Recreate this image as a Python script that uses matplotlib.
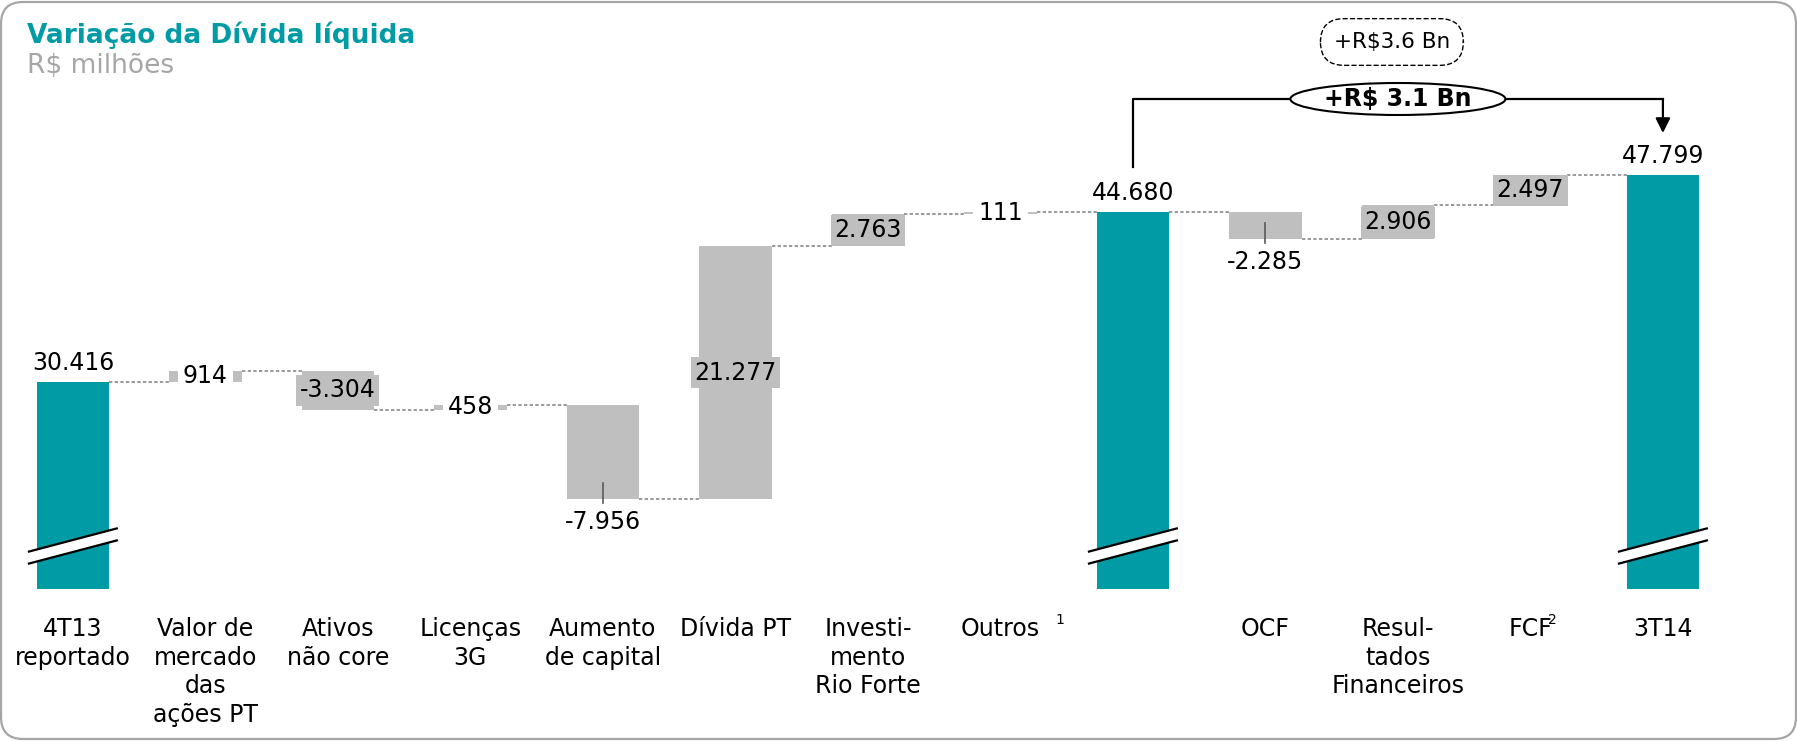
import numpy as np
import matplotlib.pyplot as plt
from matplotlib.patches import Ellipse, FancyBboxPatch, Polygon

# data (R$ milhões)
categories = ['4T13\nreportado', 'Valor de\nmercado\ndas\nações PT', 'Ativos\nnão core',
              'Licenças\n3G', 'Aumento\nde capital', 'Dívida PT',
              'Investi-\nmento\nRio Forte', 'Outros', '', 'OCF',
              'Resul-\ntados\nFinanceiros', 'FCF', '3T14']
values = [30416, 914, -3304, 458, -7956, 21277, 2763, 111, 44680, -2285, 2906, 2497, 47799]
is_total = [True, False, False, False, False, False, False, False, True,
            False, False, False, True]
value_labels = ['30.416', '914', '-3.304', '458', '-7.956', '21.277', '2.763', '111',
                '44.680', '-2.285', '2.906', '2.497', '47.799']
label_style = ['above', 'white', 'inside', 'white', 'below', 'inside', 'inside', 'white',
               'above', 'below', 'inside', 'inside', 'above']
footnotes = {7: ('1', 0.45), 11: ('2', 0.165)}
axis_start = 13000
change_main = '+R$ 3.1 Bn'
change_alt = '+R$3.6 Bn'

TEAL = '#009BA4'
GRAY = '#BFBFBF'
W, H = 1797, 741

fig = plt.figure(figsize=(W / 100, H / 100), dpi=100)
ax = fig.add_axes([0, 0, 1, 1])
y_lo, y_hi = 162, 62557
ax.set_xlim(-0.550, 13.012)
ax.set_ylim(y_lo, y_hi)
ax.axis('off')

upx = (y_hi - y_lo) / H      # data units per pixel (vertical)
xpx = 1 / 132.5              # data units per pixel (horizontal)


def py(p):
    # pixel row (from top) -> data y
    return y_hi - p * upx


# waterfall geometry
bottoms, tops, ends = [], [], []
level = 0
for v, tot in zip(values, is_total):
    if tot:
        bottoms.append(axis_start)
        tops.append(v)
        level = v
    else:
        lo, hi = sorted([level, level + v])
        bottoms.append(lo)
        tops.append(hi)
        level += v
    ends.append(level)

x = np.arange(len(values))
bw = 0.546
colors = [TEAL if t else GRAY for t in is_total]
ax.bar(x, np.array(tops) - np.array(bottoms), bottom=bottoms, width=bw,
       color=colors, zorder=2)

# dashed connectors
for i in range(len(values) - 1):
    ax.plot([i + bw / 2, i + 1 - bw / 2], [ends[i], ends[i]], color='#7F7F7F',
            lw=1.1, ls=(0, (2.2, 1.5)), zorder=1)

# axis break marks on the total bars
yc, gap, dx, dyh = py(546), 6 * upx, 45 * xpx, 11.85 * upx
for i in x[np.array(is_total)]:
    poly = Polygon([(i - dx, yc + gap - dyh), (i + dx, yc + gap + dyh),
                    (i + dx, yc - gap + dyh), (i - dx, yc - gap - dyh)],
                   closed=True, fc='white', ec='none', zorder=3)
    ax.add_patch(poly)
    for s in (1, -1):
        ax.plot([i - dx, i + dx], [yc + s * gap - dyh, yc + s * gap + dyh],
                color='black', lw=1.6, zorder=4, solid_capstyle='butt')

# value labels
fs = 17
for i, (lab, st) in enumerate(zip(value_labels, label_style)):
    mid = (bottoms[i] + tops[i]) / 2
    if st == 'above':
        ax.text(i, tops[i] + 12 * upx, lab, ha='center', va='baseline', fontsize=fs, zorder=6)
    elif st == 'below':
        ax.text(i, bottoms[i] - 11 * upx, lab, ha='center', va='top', fontsize=fs, zorder=6)
        ax.plot([i, i], [bottoms[i] + 16 * upx, bottoms[i] - 4 * upx], color='#595959',
                lw=1.2, zorder=5)
    elif st == 'white':
        ax.text(i, mid, lab, ha='center', va='center', fontsize=fs, zorder=6,
                bbox=dict(boxstyle='square,pad=0.22', fc='white', ec='none'))
    else:
        ax.text(i, mid, lab, ha='center', va='center', fontsize=fs, zorder=6,
                bbox=dict(boxstyle='square,pad=0.15', fc=GRAY, ec='none'))

# category labels
for i, cat in enumerate(categories):
    ax.text(i, 1 - 617 / H, cat, transform=ax.get_xaxis_transform(), ha='center',
            va='top', fontsize=fs, linespacing=1.24)
for i, (sup, off) in footnotes.items():
    ax.text(i + off, 1 - 613 / H, sup, transform=ax.get_xaxis_transform(),
            ha='center', va='top', fontsize=10)

# bracket from 44.680 to 47.799
i0, i1 = 8, 12
ax.plot([i0, i0, i1], [py(167), py(99), py(99)], color='black', lw=1.6, zorder=4)
ax.annotate('', xy=(i1, py(133)), xytext=(i1, py(99)),
            arrowprops=dict(arrowstyle='-|>', color='black', lw=1.6,
                            mutation_scale=22, shrinkA=0, shrinkB=0), zorder=4)
xm = (i0 + i1) / 2
ax.add_patch(Ellipse((xm, py(99)), width=215 * xpx, height=32 * upx, fc='white',
                     ec='black', lw=1.5, zorder=5))
ax.text(xm, py(99), change_main, ha='center', va='center', fontsize=17,
        fontweight='bold', zorder=6)
ax.text(xm - 6 * xpx, py(42), change_alt, ha='center', va='center', fontsize=15.5,
        family=['Liberation Sans Narrow', 'DejaVu Sans'],
        bbox=dict(boxstyle='round,pad=0.62,rounding_size=1.1', fc='white', ec='black',
                  ls='--', lw=1.0))

# titles
fig.text(27 / W, 1 - 43.3 / H, 'Variação da Dívida líquida', color=TEAL,
         fontsize=19, fontweight='bold', va='baseline')
fig.text(27 / W, 1 - 73.3 / H, 'R$ milhões', color='#A6A6A6', fontsize=19, va='baseline')

# rounded frame around the slide area
frame = FancyBboxPatch((0.01, 0.02), 17.95, 7.37, boxstyle='round,pad=0,rounding_size=0.22',
                       transform=fig.dpi_scale_trans, fc='none', ec='#A6A6A6', lw=1.6)
fig.add_artist(frame)

fig.savefig('out.png', dpi=100)
